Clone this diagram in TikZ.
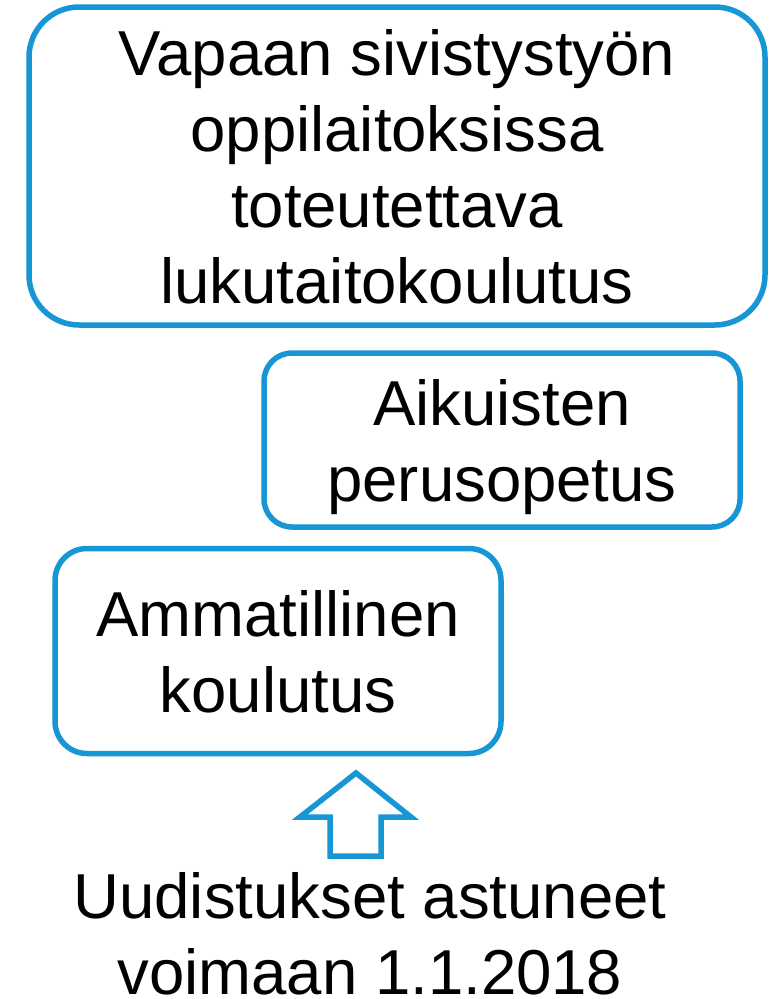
\documentclass[tikz,border=0pt]{standalone}
\usepackage{fontspec}
\setmainfont{Liberation Sans}
\definecolor{boxblue}{RGB}{22,150,212}

\begin{document}
\begin{tikzpicture}[x=1pt, y=-1pt,
  bigtext/.style={font=\fontsize{63.5}{76}\selectfont, align=center, inner sep=0pt, text depth=0pt},
  stagebox/.style={bigtext, draw=boxblue, line width=5.5pt, fill=white}]

\useasboundingbox (0,0) rectangle (774,999);

\node[stagebox, rounded corners=50pt, minimum width=736pt, minimum height=318pt] (vst) at (397,166)
  {Vapaan sivistystyön\\oppilaitoksissa\\toteutettava\\lukutaitokoulutus};

\node[stagebox, rounded corners=28pt, minimum width=476pt, minimum height=174pt] (aps) at (502,440)
  {Aikuisten\\perusopetus};

\node[stagebox, rounded corners=32pt, minimum width=446pt, minimum height=205pt] (amk) at (278,651)
  {Ammatillinen\\koulutus};

\node[bigtext] (uud) at (370,933) {Uudistukset astuneet\\voimaan 1.1.2018};

\coordinate (tip) at (356,773);
\draw[boxblue, line width=5.5pt, line join=miter, fill=white]
  (tip) -- (411,817) -- (381,817) -- (381,856) -- (330,856) -- (330,817) -- (300,817) -- cycle;

\end{tikzpicture}
\end{document}
